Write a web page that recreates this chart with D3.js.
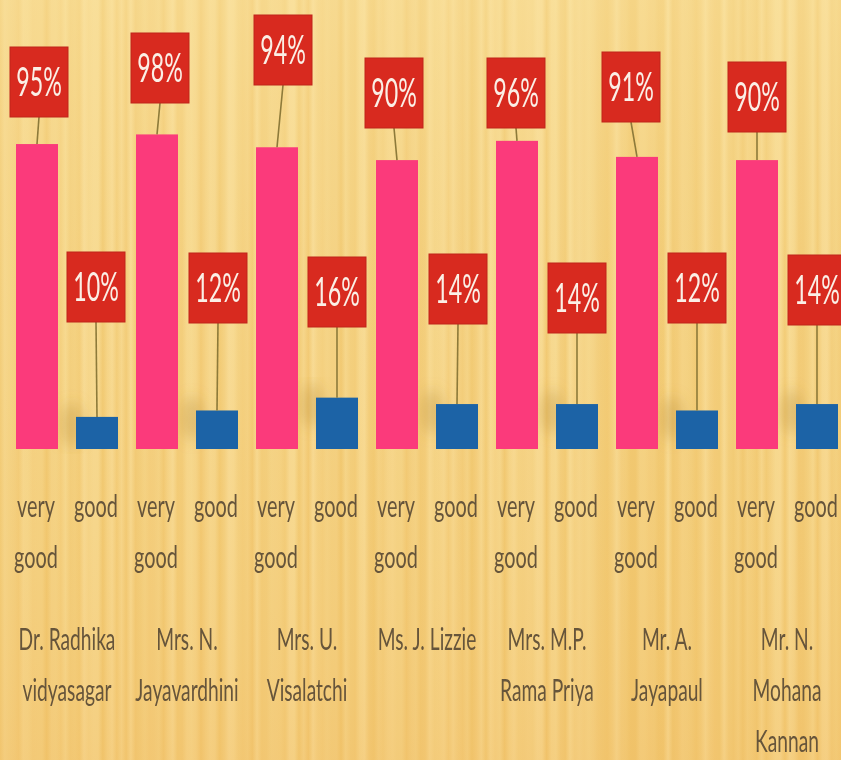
<!DOCTYPE html>
<html>
<head>
<meta charset="utf-8">
<script src="https://cdn.jsdelivr.net/npm/d3@7"></script>
<style>
  html, body { margin: 0; padding: 0; background: #f5d58c; }
  svg { display: block; }
</style>
</head>
<body>
<div id="chart"></div>
<script>
// ---------- data ----------
const teachers = [
  "Dr. Radhika\nvidyasagar",
  "Mrs. N.\nJayavardhini",
  "Mrs. U.\nVisalatchi",
  "Ms. J. Lizzie",
  "Mrs. M.P.\nRama Priya",
  "Mr. A.\nJayapaul",
  "Mr. N.\nMohana\nKannan"
];
const ratings = ["very good", "good"];
const veryGood = [95, 98, 94, 90, 96, 91, 90];
const good = [10, 12, 16, 14, 14, 12, 14];

// ---------- layout (label callout placement, px) ----------
const veryGoodBoxTop = [47, 33, 15, 58, 58, 52, 62];
const veryGoodBoxDx = [2, 3, 6, -3, -1, -6, 0];
const goodBoxTop = [252, 253, 257, 254, 263, 253, 255];
const goodBoxDx = [-1, 1, 0, 1, 0, 0, 0];

const W = 841, H = 760;
const colors = { "very good": "#fb3a7b", "good": "#1c63a6" };

const svg = d3.select("#chart").append("svg")
  .attr("width", W).attr("height", H);

const defs = svg.append("defs");

// papyrus-like background texture
const hash = i => { const s = Math.sin(i * 12.9898 + 78.233) * 43758.5453; return s - Math.floor(s); };
const bgGrad = defs.append("linearGradient").attr("id", "bgStripes")
  .attr("x1", 0).attr("x2", 1).attr("y1", 0).attr("y2", 0);
const nStops = 180;
const stripeColor = d3.interpolateRgb("#eebf5e", "#fae2a0");
d3.range(nStops + 1).forEach(i => {
  bgGrad.append("stop").attr("offset", i / nStops)
    .attr("stop-color", stripeColor(0.25 + 0.6 * hash(i)));
});
const vGrad = defs.append("linearGradient").attr("id", "bgVert")
  .attr("x1", 0).attr("x2", 0).attr("y1", 0).attr("y2", 1);
vGrad.append("stop").attr("offset", 0).attr("stop-color", "#fbe6a6").attr("stop-opacity", 0.4);
vGrad.append("stop").attr("offset", 0.35).attr("stop-color", "#f7dc98").attr("stop-opacity", 0.15);
vGrad.append("stop").attr("offset", 0.7).attr("stop-color", "#f0be68").attr("stop-opacity", 0.15);
vGrad.append("stop").attr("offset", 1).attr("stop-color", "#efb45a").attr("stop-opacity", 0.3);

defs.append("filter").attr("id", "blur8").append("feGaussianBlur").attr("stdDeviation", 7);
defs.append("filter").attr("id", "soft").append("feGaussianBlur").attr("stdDeviation", 0.6);

svg.append("rect").attr("width", W).attr("height", H).attr("fill", "url(#bgStripes)");
svg.append("rect").attr("width", W).attr("height", H).attr("fill", "url(#bgVert)");

// ---------- scales ----------
const x0 = d3.scaleBand().domain(teachers).range([7, 847]);
const x1 = d3.scaleBand().domain(ratings).range([0, x0.bandwidth()])
  .paddingInner(0.3).paddingOuter(0.15);
const y = d3.scaleLinear().domain([0, 100]).range([449, 128]);

const rows = teachers.map((t, i) => ({
  teacher: t,
  values: [
    { key: "very good", value: veryGood[i], boxTop: veryGoodBoxTop[i], boxDx: veryGoodBoxDx[i] },
    { key: "good", value: good[i], boxTop: goodBoxTop[i], boxDx: goodBoxDx[i] }
  ]
}));

// soft smudges beside the short bars
const smudge = svg.append("g").attr("filter", "url(#blur8)");
rows.forEach(r => {
  const v = r.values[1];
  smudge.append("ellipse")
    .attr("cx", x0(r.teacher) + x1("good") - 4)
    .attr("cy", y(v.value) + 8)
    .attr("rx", 12).attr("ry", 22)
    .attr("fill", "#b98f3e").attr("opacity", 0.35);
});

// ---------- bars ----------
const groups = svg.append("g").selectAll("g.grp").data(rows).join("g")
  .attr("class", "grp")
  .attr("transform", d => `translate(${x0(d.teacher)},0)`);

groups.selectAll("rect.bar").data(d => d.values).join("rect")
  .attr("class", "bar")
  .attr("x", d => x1(d.key))
  .attr("y", d => y(d.value))
  .attr("width", x1.bandwidth())
  .attr("height", d => y(0) - y(d.value))
  .attr("fill", d => colors[d.key]);

// ---------- callout labels ----------
const boxW = 58, boxH = 70;
const callouts = groups.selectAll("g.callout").data(d => d.values).join("g").attr("class", "callout");

callouts.append("line")
  .attr("x1", d => x1(d.key) + x1.bandwidth() / 2 + d.boxDx)
  .attr("y1", d => d.boxTop + boxH)
  .attr("x2", d => x1(d.key) + x1.bandwidth() / 2)
  .attr("y2", d => y(d.value))
  .attr("stroke", "#8d7a3a").attr("stroke-width", 1.6);

callouts.append("rect")
  .attr("x", d => x1(d.key) + x1.bandwidth() / 2 + d.boxDx - boxW / 2)
  .attr("y", d => d.boxTop)
  .attr("width", boxW).attr("height", boxH)
  .attr("fill", "#d82a1f")
  .attr("stroke", "#c0241a").attr("stroke-width", 1);

callouts.append("text")
  .attr("transform", d => `translate(${x1(d.key) + x1.bandwidth() / 2 + d.boxDx},${d.boxTop + boxH / 2 + 14}) scale(0.58,1)`)
  .attr("text-anchor", "middle")
  .attr("font-family", "Lato, 'Open Sans', sans-serif")
  .attr("font-size", 40)
  .attr("fill", "#fbefe6")
  .attr("filter", "url(#soft)")
  .text(d => d.value + "%");

// ---------- rating labels under bars ----------
const textColor = "#66543a";
const ratingLines = { "very good": ["very", "good"], "good": ["good"] };
groups.each(function () {
  const g = d3.select(this);
  ratings.forEach(rk => {
    ratingLines[rk].forEach((line, li) => {
      g.append("text")
        .attr("transform", `translate(${x1(rk) + x1.bandwidth() / 2 - 1},${517 + li * 51}) scale(0.64,1)`)
        .attr("text-anchor", "middle")
        .attr("font-family", "Lato, 'Open Sans', sans-serif")
        .attr("font-size", 31)
        .attr("fill", textColor)
        .attr("filter", "url(#soft)")
        .text(line);
    });
  });
});

// ---------- teacher name axis ----------
const axis = svg.append("g")
  .call(d3.axisBottom(x0).tickSize(0).tickFormat(() => ""));
axis.select(".domain").remove();

axis.selectAll(".tick").each(function (d) {
  const tick = d3.select(this);
  d.split("\n").forEach((line, li) => {
    tick.append("text")
      .attr("transform", `translate(0,${650 + li * 51}) scale(0.64,1)`)
      .attr("text-anchor", "middle")
      .attr("font-family", "Lato, 'Open Sans', sans-serif")
      .attr("font-size", 30)
      .attr("fill", textColor)
      .attr("filter", "url(#soft)")
      .text(line);
  });
});
</script>
</body>
</html>
